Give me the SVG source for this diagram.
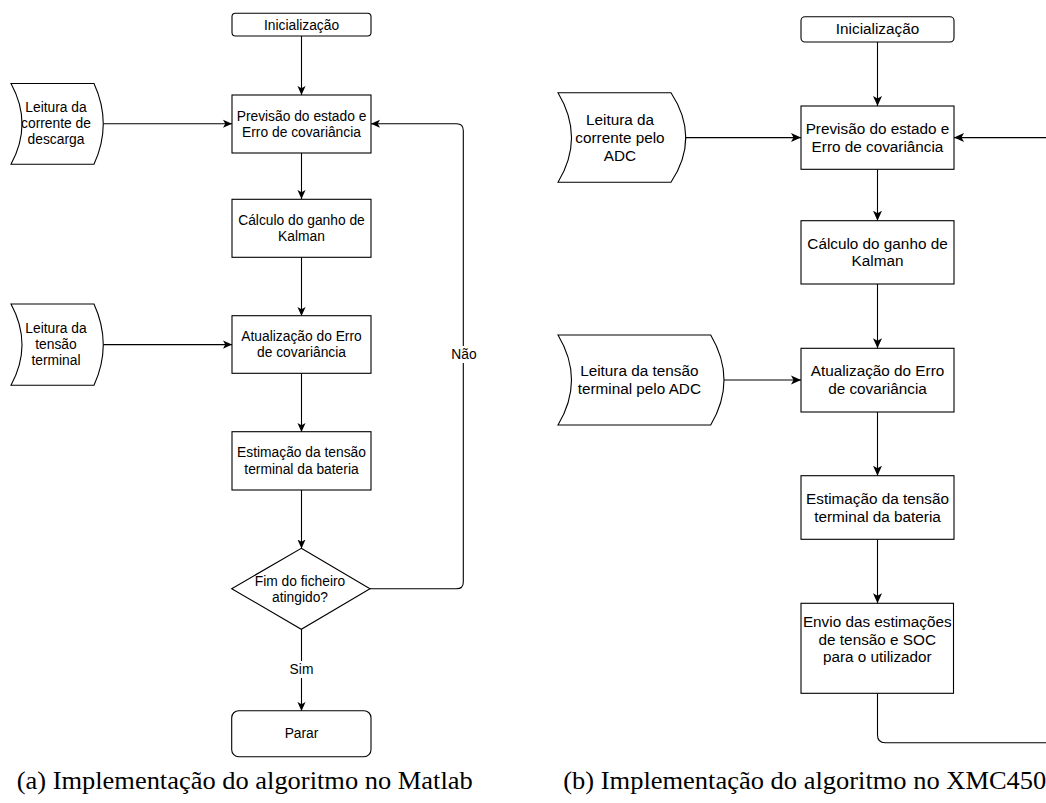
<svg xmlns="http://www.w3.org/2000/svg" width="1046" height="803" viewBox="0 0 1046 803">
<style>
.shape{fill:#fff;stroke:#000;stroke-width:1.1}
.edge{fill:none;stroke:#000;stroke-width:1.1}
.tl{font-family:"Liberation Sans",Arial,sans-serif;font-size:13.8px;text-anchor:middle;fill:#000}
.tr{font-family:"Liberation Sans",Arial,sans-serif;font-size:15.3px;text-anchor:middle;fill:#000}
.cap{font-family:"Liberation Serif","Times New Roman",serif;font-size:25px;fill:#000}
</style>
<defs>
<marker id="aL" viewBox="0 0 10 10" refX="10" refY="5" markerWidth="9" markerHeight="9" markerUnits="userSpaceOnUse" orient="auto">
<path d="M0,0.5 L10,5 L0,9.5 L2.5,5 Z" fill="#000"/>
</marker>
<marker id="aR" viewBox="0 0 10 10" refX="10" refY="5" markerWidth="10" markerHeight="10" markerUnits="userSpaceOnUse" orient="auto">
<path d="M0,0.5 L10,5 L0,9.5 L2.5,5 Z" fill="#000"/>
</marker>
</defs>
<rect width="1046" height="803" fill="#fff"/>

<g id="connectors">
<path class="edge" d="M301.5,36 L301.5,95" marker-end="url(#aL)"/>
<path class="edge" d="M301.5,153 L301.5,199" marker-end="url(#aL)"/>
<path class="edge" d="M301.5,257 L301.5,316" marker-end="url(#aL)"/>
<path class="edge" d="M301.5,373 L301.5,432" marker-end="url(#aL)"/>
<path class="edge" d="M301.5,490 L301.5,548.5" marker-end="url(#aL)"/>
<path class="edge" d="M301.5,629 L301.5,711" marker-end="url(#aL)"/>
<path class="edge" d="M103.3,123.8 L232,123.8" marker-end="url(#aL)"/>
<path class="edge" d="M103.3,344.6 L232,344.6" marker-end="url(#aL)"/>
<path class="edge" d="M370,588.7 L456.5,588.7 Q463.3,588.7 463.3,581.9 L463.3,130.6 Q463.3,123.8 456.5,123.8 L371,123.8" marker-end="url(#aL)"/>
<path class="edge" d="M877.5,42 L877.5,106" marker-end="url(#aR)"/>
<path class="edge" d="M877.5,169.3 L877.5,220.7" marker-end="url(#aR)"/>
<path class="edge" d="M877.5,284 L877.5,348.3" marker-end="url(#aR)"/>
<path class="edge" d="M877.5,412 L877.5,475.7" marker-end="url(#aR)"/>
<path class="edge" d="M877.5,539.3 L877.5,603.3" marker-end="url(#aR)"/>
<path class="edge" d="M685.7,137.6 L801,137.6" marker-end="url(#aR)"/>
<path class="edge" d="M724,380 L801,380" marker-end="url(#aR)"/>
<path class="edge" d="M877.5,693.3 L877.5,735 Q877.5,742.7 885.2,742.7 L1070,742.7 L1070,137.6 L954,137.6" marker-end="url(#aR)"/>
</g>

<g id="lbl-nao">
<rect x="450" y="346" width="28" height="17" fill="#fff"/>
<text class="tl" x="464" y="359">Não</text>
</g>
<g id="lbl-sim">
<rect x="290" y="661" width="23" height="17" fill="#fff"/>
<text class="tl" x="301.5" y="674">Sim</text>
</g>

<g id="L-inicializacao">
<rect class="shape" x="232" y="13.3" width="139" height="22.7" rx="3.5"/>
<text class="tl" x="301.5" y="30">Inicialização</text>
</g>
<g id="L-previsao">
<rect class="shape" x="232" y="95" width="139" height="58"/>
<text class="tl" x="301.5" y="120.7">Previsão do estado e</text>
<text class="tl" x="301.5" y="136.7">Erro de covariância</text>
</g>
<g id="L-calculo">
<rect class="shape" x="232" y="199.3" width="139" height="58"/>
<text class="tl" x="301.5" y="225">Cálculo do ganho de</text>
<text class="tl" x="301.5" y="241">Kalman</text>
</g>
<g id="L-leitura-corrente">
<path class="shape" d="M11,83.5 L94,83.5 Q112.5,123.8 94,164.3 L11,164.3 Q33,123.8 11,83.5 Z"/>
<text class="tl" x="56" y="112.3">Leitura da</text>
<text class="tl" x="56" y="128.3">corrente de</text>
<text class="tl" x="56" y="144.3">descarga</text>
</g>
<g id="L-leitura-tensao">
<path class="shape" d="M11,304 L94,304 Q112.5,344.6 94,385.3 L11,385.3 Q33,344.6 11,304 Z"/>
<text class="tl" x="56" y="333.3">Leitura da</text>
<text class="tl" x="56" y="349.3">tensão</text>
<text class="tl" x="56" y="365.3">terminal</text>
</g>
<g id="L-atualizacao">
<rect class="shape" x="232" y="315.7" width="139" height="57.6"/>
<text class="tl" x="301.5" y="341">Atualização do Erro</text>
<text class="tl" x="301.5" y="357">de covariância</text>
</g>
<g id="L-estimacao">
<rect class="shape" x="232" y="431.7" width="139" height="58.3"/>
<text class="tl" x="301.5" y="457.3">Estimação da tensão</text>
<text class="tl" x="301.5" y="473.7">terminal da bateria</text>
</g>
<g id="L-decisao">
<polygon class="shape" points="301.3,548.3 370,588.7 301.3,629.3 231.7,588.7"/>
<text class="tl" x="300" y="585.7">Fim do ficheiro</text>
<text class="tl" x="300" y="602.3">atingido?</text>
</g>
<g id="L-parar">
<rect class="shape" x="231.7" y="710.7" width="139.3" height="46" rx="7"/>
<text class="tl" x="301.5" y="738.3">Parar</text>
</g>

<g id="R-inicializacao">
<rect class="shape" x="801" y="16.7" width="153" height="25.3" rx="4"/>
<text class="tr" x="877.5" y="34.2">Inicialização</text>
</g>
<g id="R-previsao">
<rect class="shape" x="801" y="106" width="153" height="63.3"/>
<text class="tr" x="877.5" y="133.8">Previsão do estado e</text>
<text class="tr" x="877.5" y="151.5">Erro de covariância</text>
</g>
<g id="R-calculo">
<rect class="shape" x="801" y="220.7" width="153" height="63.3"/>
<text class="tr" x="877.5" y="248.8">Cálculo do ganho de</text>
<text class="tr" x="877.5" y="266.2">Kalman</text>
</g>
<g id="R-leitura-corrente">
<path class="shape" d="M558,92.7 L671,92.7 Q700.5,137.5 671,182.3 L558,182.3 Q585,137.5 558,92.7 Z"/>
<text class="tr" x="620" y="124.5">Leitura da</text>
<text class="tr" x="620" y="142.8">corrente pelo</text>
<text class="tr" x="620" y="160.5">ADC</text>
</g>
<g id="R-leitura-tensao">
<path class="shape" d="M558,335 L710.7,335 Q737.3,380 710.7,425 L558,425 Q585,380 558,335 Z"/>
<text class="tr" x="639.3" y="376.2">Leitura da tensão</text>
<text class="tr" x="639.3" y="394.2">terminal pelo ADC</text>
</g>
<g id="R-atualizacao">
<rect class="shape" x="801" y="348.3" width="153" height="63.7"/>
<text class="tr" x="877.5" y="376.2">Atualização do Erro</text>
<text class="tr" x="877.5" y="394.2">de covariância</text>
</g>
<g id="R-estimacao">
<rect class="shape" x="801" y="475.7" width="153" height="63.6"/>
<text class="tr" x="877.5" y="503.8">Estimação da tensão</text>
<text class="tr" x="877.5" y="521.5">terminal da bateria</text>
</g>
<g id="R-envio">
<rect class="shape" x="801" y="603.3" width="152.5" height="90"/>
<text class="tr" x="877.3" y="627.2">Envio das estimações</text>
<text class="tr" x="877.3" y="644.5">de tensão e SOC</text>
<text class="tr" x="877.3" y="662.2">para o utilizador</text>
</g>

<g id="captions">
<text class="cap" x="16.7" y="789" textLength="456" lengthAdjust="spacingAndGlyphs">(a) Implementação do algoritmo no Matlab</text>
<text class="cap" x="563.3" y="789" textLength="483" lengthAdjust="spacingAndGlyphs">(b) Implementação do algoritmo no XMC450</text>
</g>
</svg>
